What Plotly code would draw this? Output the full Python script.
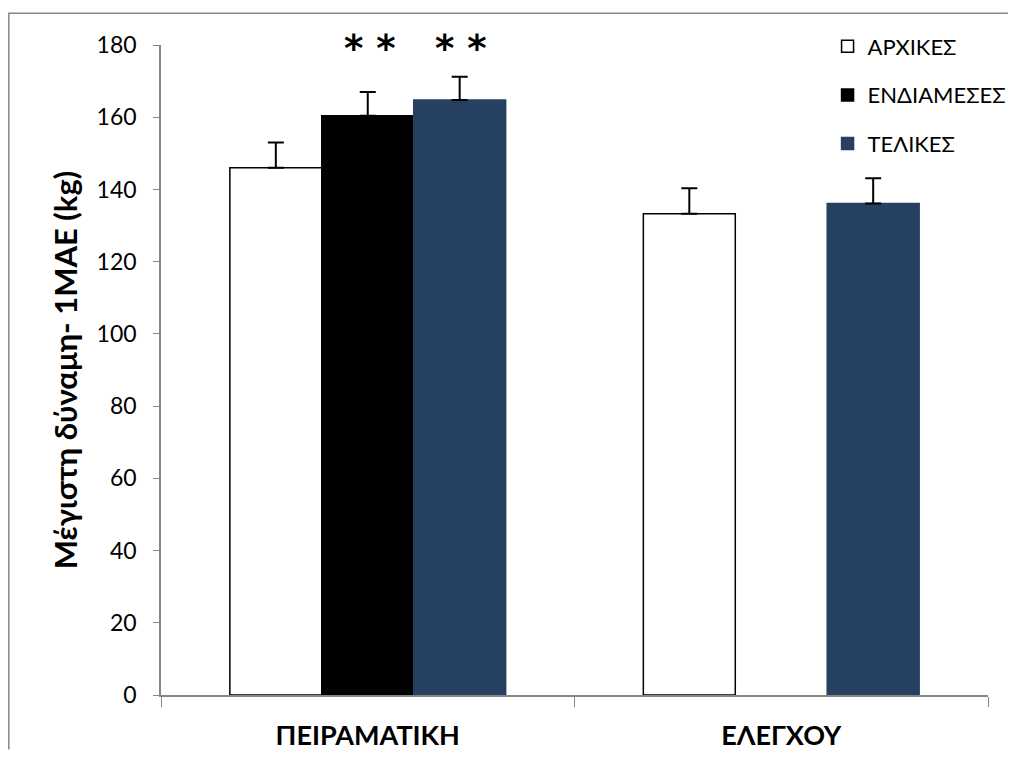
import plotly.graph_objects as go

categories = ["ΠΕΙΡΑΜΑΤΙΚΗ", "ΕΛΕΓΧΟΥ"]
series_names = ["ΑΡΧΙΚΕΣ", "ΕΝΔΙΑΜΕΣΕΣ", "ΤΕΛΙΚΕΣ"]
arxikes = [146, 133.3]
endiameses = [160.4, None]
telikes = [164.8, 136.1]
arxikes_err = [7.0, 7.0]
endiameses_err = [6.6, 0]
telikes_err = [6.4, 7.0]
significance = ["**", "**"]  # above ΕΝΔΙΑΜΕΣΕΣ and ΤΕΛΙΚΕΣ in ΠΕΙΡΑΜΑΤΙΚΗ
sig_level = 179

fill_colors = ["#ffffff", "#000000", "#264061"]
line_colors = ["#000000", "#000000", "#264061"]

values = [arxikes, endiameses, telikes]
errors = [arxikes_err, endiameses_err, telikes_err]

fig = go.Figure()
for i, (name, vals, errs) in enumerate(zip(series_names, values, errors)):
    fig.add_trace(go.Bar(
        name=name,
        x=categories,
        y=vals,
        legendgroup=name,
        marker=dict(color=fill_colors[i], line=dict(color=line_colors[i], width=1.5)),
        error_y=dict(type="data", array=errs, arrayminus=[0] * len(errs),
                     symmetric=False, color="#000000", thickness=2, width=8),
    ))

font_family = "Lato, 'Open Sans', sans-serif"
bar_px = 91.5
for name, shift in zip(significance, [0, bar_px]):
    fig.add_annotation(x=categories[0], y=sig_level, xref="x", yref="y",
                       text="<b>" + name.replace("*", "* ").strip() + "</b>", showarrow=False,
                       xshift=shift + 2, font=dict(size=37, family="DejaVu Sans", color="#000000"))

# outer chart frame (only left and top edges are visible in the reference)
fig.add_shape(type="path", xref="paper", yref="paper",
              path="M -0.184,-0.084 L -0.184,1.049 L 1.024,1.049",
              line=dict(color="#868686", width=1.5))

fig.update_layout(
    width=1001, height=742,
    margin=dict(l=153, r=21, t=37, b=55, autoexpand=False),
    paper_bgcolor="#ffffff", plot_bgcolor="#ffffff",
    barmode="group", bargap=0.333, bargroupgap=0,
    font=dict(family=font_family, size=23, color="#000000"),
    showlegend=True,
    legend=dict(x=0.806, y=1.03, xanchor="left", yanchor="top",
                font=dict(size=22, family=font_family), tracegroupgap=17,
                traceorder="grouped", bgcolor="rgba(0,0,0,0)",
                itemwidth=30),
    xaxis=dict(showline=True, linecolor="#868686", linewidth=1.5,
               ticks="outside", ticklen=10, tickcolor="#868686",
               tickmode="array", tickvals=[-0.5, 0.5, 1.5], ticktext=["", "", ""],
               showgrid=False, range=[-0.5, 1.5]),
    xaxis2=dict(overlaying="x", range=[-0.5, 1.5], showline=False, showgrid=False,
                tickmode="array", tickvals=[0, 1],
                ticktext=["<b>" + c + "</b>" for c in categories],
                tickfont=dict(size=27), side="bottom", ticks="", ticklabelstandoff=22),
    yaxis=dict(range=[0, 180], dtick=20, showline=True, linecolor="#868686",
               linewidth=1.5, ticks="outside", ticklen=6, tickcolor="#868686",
               showgrid=False, zeroline=False, ticklabelstandoff=12,
               title=dict(text="<b>Μέγιστη δύναμη- 1ΜΑΕ (kg)</b>", font=dict(size=31), standoff=10)),
)
# invisible trace to activate xaxis2 for category labels
fig.add_trace(go.Scatter(x=[0, 1], y=[None, None], xaxis="x2", showlegend=False,
                         hoverinfo="skip"))

fig.write_html("out.html")
